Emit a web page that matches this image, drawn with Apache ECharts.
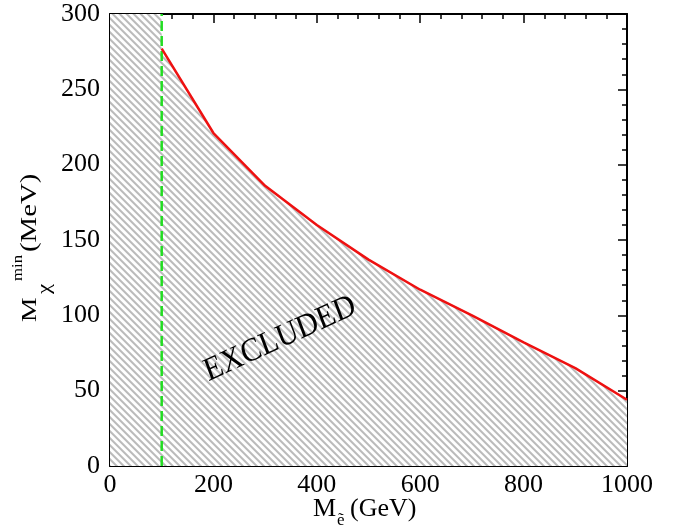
<!DOCTYPE html>
<html>
<head>
<meta charset="utf-8">
<script src="https://cdn.jsdelivr.net/npm/echarts@6/dist/echarts.min.js"></script>
<style>
html,body{margin:0;padding:0;background:#fff;}
#chart{width:678px;height:529px;}
</style>
</head>
<body>
<div id="chart"></div>
<script>
// ---- data ----
var boundaryX = [100, 200, 300, 400, 500, 600, 700, 800, 900, 1000];
var boundaryY = [277, 221, 186, 160, 137, 117, 100, 82, 65, 44];
var cutX = 100;
var yMax = 300;
var xTicks = [0, 200, 400, 600, 800, 1000];
var yTicks = [0, 50, 100, 150, 200, 250, 300];
var regionLabel = 'EXCLUDED';

// ---- hatch pattern ----
function makeHatch() {
  var n = 7;
  var c = document.createElement('canvas');
  c.width = n; c.height = n;
  var ctx = c.getContext('2d');
  for (var x = 0; x < n; x++) {
    for (var y = 0; y < n; y++) {
      var d = (((x - y) % n) + n) % n;
      ctx.fillStyle = d < 2 ? '#bcbcbc' : (d === 2 ? '#d2d2d2' : (d === 6 ? '#ececec' : '#ffffff'));
      ctx.fillRect(x, y, 1, 1);
    }
  }
  return c;
}

var redLine = boundaryX.map(function (x, i) { return [x, boundaryY[i]]; });
var areaData = [[0, yMax], [cutX, yMax]].concat(redLine);
var greenLine = [[cutX, 0], [cutX, yMax]];

var serif = 'Liberation Serif';
var axisCommon = {
  type: 'value',
  axisLine: { show: true, onZero: false, lineStyle: { color: '#000', width: 2 } },
  axisTick: { show: true, inside: true, length: 9, lineStyle: { color: '#000', width: 1.5 } },
  minorTick: { show: true, splitNumber: 5, length: 5, lineStyle: { color: '#000', width: 1.5 } },
  splitLine: { show: false },
  minorSplitLine: { show: false }
};
function ax(extra) { return Object.assign({}, JSON.parse(JSON.stringify(axisCommon)), extra); }
function plain(v) { return String(v); }

var chart = echarts.init(document.getElementById('chart'), null, { renderer: 'canvas' });
var option = {
  animation: false,
  backgroundColor: '#fff',
  grid: { left: 110, right: 51, top: 14, bottom: 63 },
  xAxis: [
    ax({ min: xTicks[0], max: xTicks[xTicks.length - 1], interval: 200, position: 'bottom',
      axisLabel: { show: true, color: '#000', fontFamily: serif, fontSize: 26, margin: 6, formatter: plain } }),
    ax({ min: xTicks[0], max: xTicks[xTicks.length - 1], interval: 200, position: 'top',
      axisLabel: { show: false } })
  ],
  yAxis: [
    ax({ min: yTicks[0], max: yTicks[yTicks.length - 1], interval: 50, position: 'left',
      axisLabel: { show: true, color: '#000', fontFamily: serif, fontSize: 26, margin: 10, formatter: plain } }),
    ax({ min: yTicks[0], max: yTicks[yTicks.length - 1], interval: 50, position: 'right',
      axisLabel: { show: false } })
  ],
  series: [
    {
      type: 'line', data: areaData, symbol: 'none', silent: true,
      lineStyle: { width: 0, opacity: 0 },
      areaStyle: { color: { image: makeHatch(), repeat: 'repeat' }, opacity: 1, origin: 'start' },
      z: 1
    },
    {
      type: 'line', data: greenLine, symbol: 'none', silent: true,
      lineStyle: { color: '#22dd22', width: 2.5, type: [10, 5] },
      z: 3
    },
    {
      type: 'line', data: redLine, symbol: 'none', silent: true,
      lineStyle: { color: '#ee1111', width: 2.5 },
      z: 4
    }
  ],
  graphic: [
    {
      type: 'group', x: 280, y: 339, scaleY: 1.1, z: 10,
      children: [{
        type: 'text', x: 0, y: 0, rotation: 0.395, z: 10,
        style: { text: regionLabel, fill: '#000', font: '30px "Liberation Serif"', align: 'center', verticalAlign: 'middle' }
      }]
    },
    { type: 'text', x: 313, y: 509, z: 10, style: { text: 'M', fill: '#000', font: '26px "Liberation Serif"', align: 'left', verticalAlign: 'middle' } },
    { type: 'text', x: 337, y: 521, z: 10, style: { text: 'ẽ', fill: '#000', font: '17px "Liberation Serif"', align: 'left', verticalAlign: 'middle' } },
    { type: 'text', x: 350, y: 509, z: 10, style: { text: '(GeV)', fill: '#000', font: '26px "Liberation Serif"', align: 'left', verticalAlign: 'middle' } },

    { type: 'text', x: 30, y: 322, rotation: Math.PI / 2, scaleX: 1.25, z: 10, style: { text: 'M', fill: '#000', font: '22px "Liberation Serif"', align: 'left', verticalAlign: 'middle' } },
    { type: 'text', x: 45, y: 294, rotation: Math.PI / 2, scaleX: 1.2, z: 10, style: { text: 'χ', fill: '#000', font: '19px "Liberation Serif"', align: 'left', verticalAlign: 'middle' } },
    { type: 'text', x: 18, y: 281, rotation: Math.PI / 2, scaleX: 1.2, z: 10, style: { text: 'min', fill: '#000', font: '14px "Liberation Serif"', align: 'left', verticalAlign: 'middle' } },
    { type: 'text', x: 30, y: 252, rotation: Math.PI / 2, scaleX: 1.2, z: 10, style: { text: '(MeV)', fill: '#000', font: '24px "Liberation Serif"', align: 'left', verticalAlign: 'middle' } }
  ]
};
chart.setOption(option);
</script>
</body>
</html>
